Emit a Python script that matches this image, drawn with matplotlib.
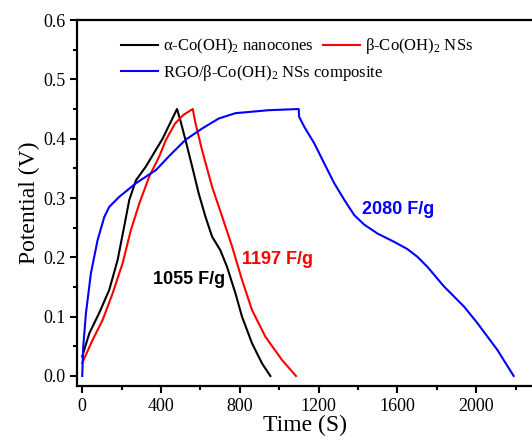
import matplotlib
matplotlib.use("Agg")
import matplotlib.pyplot as plt
from matplotlib.ticker import MultipleLocator, FormatStrFormatter

# alpha-Co(OH)2 nanocones
t_alpha = [0, 36, 86, 137, 180, 213, 239, 273, 323, 408, 481, 498, 524, 558, 591,
           625, 659, 701, 735, 778, 811, 862, 913, 955]
v_alpha = [0.033, 0.072, 0.106, 0.145, 0.196, 0.252, 0.297, 0.330, 0.353, 0.400, 0.450,
           0.431, 0.398, 0.353, 0.308, 0.269, 0.235, 0.212, 0.184, 0.139, 0.100, 0.055,
           0.021, 0.0]

# beta-Co(OH)2 NSs
t_beta = [0, 53, 103, 154, 205, 247, 290, 340, 391, 425, 470, 513, 561, 575, 608,
          659, 710, 761, 811, 862, 930, 1014, 1085]
v_beta = [0.022, 0.061, 0.094, 0.139, 0.190, 0.246, 0.291, 0.336, 0.370, 0.398, 0.425,
          0.440, 0.450, 0.426, 0.381, 0.319, 0.269, 0.218, 0.162, 0.111, 0.066, 0.027, 0.0]

# RGO/beta-Co(OH)2 NSs composite
t_rgo = [0, 5, 19, 44, 78, 112, 137, 188, 273, 374, 445, 524, 608, 693, 778, 947,
         1099, 1101, 1127, 1178, 1229, 1279, 1330, 1381, 1432, 1499, 1584, 1650, 1701,
         1752, 1836, 1938, 2006, 2107, 2190]
v_rgo = [0.0, 0.049, 0.106, 0.173, 0.229, 0.268, 0.285, 0.302, 0.325, 0.347, 0.372,
         0.398, 0.417, 0.434, 0.443, 0.448, 0.450, 0.437, 0.420, 0.392, 0.358, 0.325,
         0.297, 0.271, 0.255, 0.240, 0.226, 0.214, 0.201, 0.184, 0.151, 0.117, 0.089,
         0.044, 0.0]

labels = ["\u03b1-Co(OH)$_2$ nanocones", "\u03b2-Co(OH)$_2$ NSs",
          "RGO/\u03b2-Co(OH)$_2$ NSs composite"]
caps = ["1055 F/g", "1197 F/g", "2080 F/g"]

plt.rcParams["font.family"] = ["Liberation Serif", "DejaVu Serif"]
plt.rcParams["mathtext.fontset"] = "custom"
plt.rcParams["mathtext.rm"] = "Liberation Serif"
plt.rcParams["mathtext.default"] = "regular"

fig = plt.figure(figsize=(5.32, 4.41), dpi=100)
ax = fig.add_axes([0.1453, 0.1247, 1 - 0.1453, 0.9546 - 0.1247])

l1, = ax.plot(t_alpha, v_alpha, color="black", lw=1.5)
l2, = ax.plot(t_beta, v_beta, color="red", lw=1.5)
l3, = ax.plot(t_rgo, v_rgo, color="blue", lw=1.5)

ax.set_xlim(-25, 2283)
ax.set_ylim(-0.0169, 0.6)
ax.xaxis.set_major_locator(MultipleLocator(400))
ax.xaxis.set_minor_locator(MultipleLocator(200))
ax.yaxis.set_major_locator(MultipleLocator(0.1))
ax.yaxis.set_minor_locator(MultipleLocator(0.05))
ax.yaxis.set_major_formatter(FormatStrFormatter("%.1f"))
ax.tick_params(which="major", direction="out", length=5, width=1.5, labelsize=13)
ax.tick_params(which="minor", direction="out", length=3, width=1.5)
for s in ["left", "bottom", "top"]:
    ax.spines[s].set_linewidth(1.6)
ax.spines["right"].set_visible(False)

ax.set_xlabel("Time (S)", fontsize=17, labelpad=0)
ax.set_ylabel("Potential (V)", fontsize=17, labelpad=2)

leg1 = ax.legend([l1, l2], labels[:2], ncol=2, loc="upper left",
                 bbox_to_anchor=(0.096, 0.955), frameon=False, fontsize=12,
                 borderpad=0, borderaxespad=0, handlelength=2.2,
                 handletextpad=0.3, columnspacing=0.6)
ax.add_artist(leg1)
ax.legend([l3], labels[2:], loc="upper left", bbox_to_anchor=(0.096, 0.882),
          frameon=False, fontsize=12, borderpad=0, borderaxespad=0,
          handlelength=2.2, handletextpad=0.3)

bold = dict(fontsize=13, fontweight="bold", family=["Liberation Sans", "DejaVu Sans"],
            ha="center", va="center")
ax.text(542, 0.163, caps[0], color="black", **bold)
ax.text(991, 0.196, caps[1], color="red", **bold)
ax.text(1605, 0.280, caps[2], color="blue", **bold)

fig.savefig("out.png", dpi=100)
